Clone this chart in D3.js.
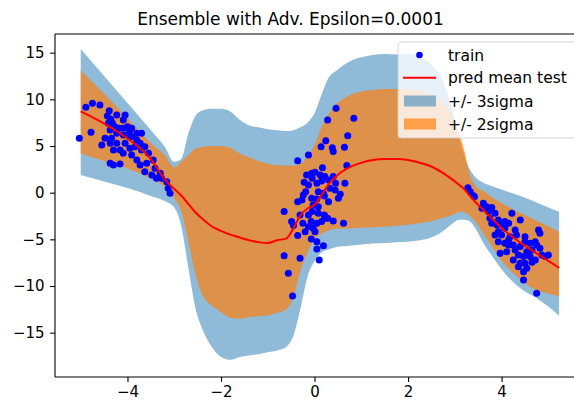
<!DOCTYPE html>
<html>
<head>
<meta charset="utf-8">
<script src="https://cdn.jsdelivr.net/npm/d3@7"></script>
<style>
    body { margin: 0; background: #fff; }
    svg text { font-family: "DejaVu Sans", sans-serif; fill: #000; }
</style>
</head>
<body>
<div id="chart"></div>
<script>
(function () {
    "use strict";

    const title = "Ensemble with Adv. Epsilon=0.0001";
    const legendLabels = ["train", "pred mean test", "+/- 3sigma", "+/- 2sigma"];
    const xTicks = [-4, -2, 0, 2, 4];
    const yTicks = [-15, -10, -5, 0, 5, 10, 15];

    // test grid + ensemble prediction
    const testX = [-5.0, -4.5, -4.0, -3.5, -3.2, -3.0, -2.85, -2.7, -2.55, -2.4, -2.2, -2.0, -1.8, -1.6,
        -1.4, -1.2, -1.0, -0.8, -0.6, -0.45, -0.3, -0.15, 0.0, 0.15, 0.3, 0.45, 0.6, 0.8, 1.0, 1.25,
        1.5, 1.75, 2.0, 2.25, 2.5, 2.75, 2.95, 3.1, 3.2, 3.3, 3.45, 3.6, 3.8, 4.0, 4.25, 4.5, 4.75,
        5.0, 5.23];
    const predMean = [8.7, 7.4, 5.8, 3.6, 1.4, 0.4, -0.3, -1.2, -2.1, -2.8, -3.6, -4.1, -4.5, -4.8,
        -5.1, -5.3, -5.4, -5.1, -4.9, -3.8, -2.4, -1.7, -1.3, -0.25, 0.9, 1.7, 2.3, 2.85, 3.2, 3.5,
        3.6, 3.6, 3.5, 3.2, 2.8, 2.1, 1.4, 0.8, 0.4, -0.2, -1.05, -1.8, -2.8, -3.8, -4.8, -5.7, -6.5,
        -7.3, -8.05];
    const upper3 = [15.4, 12.5, 9.6, 6.7, 4.9, 3.3, 3.6, 6.3, 8.2, 8.8, 9.0, 9.0, 8.7, 7.8,
        7.2, 7.0, 6.8, 6.7, 6.6, 6.7, 7.0, 7.5, 8.5, 10.5, 12.3, 13.0, 13.6, 14.2, 14.5, 14.75,
        14.85, 14.8, 14.85, 14.6, 13.7, 11.9, 8.8, 5.6, 4.0, 2.7, 1.6, 1.1, 0.7, 0.35, -0.1, -0.55, -1.05,
        -1.6, -2.05];
    const lower3 = [1.9, 1.2, 0.5, -0.35, -0.9, -1.6, -3.6, -8.0, -12.3, -14.6, -16.5, -17.6, -17.9, -17.6,
        -17.45, -17.3, -17.1, -16.9, -16.5, -15.3, -12.4, -9.0, -7.35, -6.4, -6.1, -5.85, -5.75, -5.65, -5.55, -5.45,
        -5.4, -5.3, -5.25, -5.1, -4.8, -4.1, -3.3, -2.9, -2.9, -3.0, -3.9, -5.3, -6.8, -8.2, -9.6, -10.6, -11.3,
        -12.2, -13.2];
    const upper2 = [13.1, 10.6, 8.0, 5.3, 4.0, 2.7, 3.3, 4.0, 4.7, 4.9, 5.0, 5.0, 4.8, 4.2,
        3.8, 3.4, 3.1, 2.95, 2.9, 2.9, 3.1, 3.9, 5.1, 7.0, 8.4, 9.4, 10.0, 10.55, 10.85, 11.0,
        11.1, 11.1, 11.05, 10.9, 10.4, 9.6, 8.2, 6.2, 4.6, 2.3, 0.7, 0.2, -0.5, -1.1, -1.8, -2.4, -3.0,
        -3.6, -4.2];
    const lower2 = [4.2, 3.4, 2.6, 1.5, 0.6, -0.6, -2.0, -5.2, -8.7, -10.9, -12.1, -12.8, -13.4, -13.5,
        -13.35, -13.25, -13.15, -12.9, -12.5, -11.2, -8.4, -6.4, -5.0, -4.4, -4.05, -3.9, -3.85, -3.8, -3.75, -3.7,
        -3.65, -3.55, -3.45, -3.25, -3.05, -2.7, -2.4, -2.05, -2.1, -2.4, -3.2, -4.3, -5.8, -7.3, -8.6, -9.7, -10.45,
        -10.8, -11.1];

    // training points
    const trainX = [
        -5.03, -4.89, -4.75, -4.59, -4.78, -4.39, -4.43, -4.36, -4.41, -4.32, -4.23, -4.05, -4.09, -4.27,
        -4.17, -4.09, -4.00, -3.96, -3.91, -4.23, -4.09, -4.34, -4.48, -4.55, -4.37, -4.23, -4.05, -3.88,
        -3.80, -3.73, -4.30, -4.16, -4.09, -3.95, -3.84, -3.70, -3.63, -3.55, -3.91, -3.80, -3.73, -3.59,
        -4.37, -4.30, -4.16, -3.45, -3.41, -3.30, -3.63, -3.48, -3.38, -3.27, -3.16, -3.13, -3.09, -3.95,
        -4.37, -3.80, -3.70,
        0.46, 0.28, 0.84, 0.71, 0.24, 0.14, 0.38, 0.40, 0.64, -0.13, -0.36, 0.69, 0.17, -0.06,
        0.01, 0.12, 0.22, -0.05, -0.22, -0.13, 0.05, 0.15, 0.30, 0.40, 0.45, 0.65, 0.33, 0.44,
        0.55, 0.19, 0.08, -0.19, -0.06, 0.05, 0.21, -0.27, -0.36, -0.03, 0.08, -0.65, -0.31, -0.13,
        -0.05, 0.08, 0.21, 0.28, 0.40, 0.62, -0.49, -0.45, -0.25, -0.07, 0.05, 0.15, -0.13, -0.03,
        -0.20, 0.01, -0.36, -0.07, 0.05, 0.19, 0.05, -0.65, -0.31, 0.10, -0.56, -0.47, 0.22, 0.30,
        -0.17, -0.24, 0.51,
        3.28, 3.42, 3.61, 3.68, 3.79, 3.58, 3.72, 3.86, 3.75, 3.93, 4.07, 4.22, 4.40, 3.79,
        3.90, 4.00, 4.15, 4.29, 4.07, 3.93, 3.86, 4.00, 4.18, 4.32, 4.50, 4.79, 4.82, 4.72,
        4.61, 4.50, 4.07, 4.15, 4.25, 4.40, 4.75, 4.82, 4.65, 4.54, 5.00, 4.93, 3.97, 4.11,
        4.29, 4.36, 4.47, 4.61, 4.72, 4.25, 4.40, 4.50, 4.65, 4.36, 4.54, 4.47, 4.47, 4.75,
        4.15, 3.93, 4.86, 3.33, 3.40
    ];
    const trainY = [
        5.83, 9.15, 9.58, 9.40, 6.47, 8.79, 8.22, 7.86, 7.43, 7.43, 8.33, 8.33, 7.79, 7.07,
        6.90, 6.90, 7.07, 6.54, 6.90, 6.36, 6.18, 5.83, 5.83, 5.11, 5.29, 5.29, 5.29, 6.00,
        5.65, 5.29, 4.58, 4.58, 4.22, 4.75, 4.93, 4.58, 4.93, 4.22, 4.04, 3.50, 2.97, 3.15,
        3.15, 2.97, 3.07, 3.50, 2.61, 2.08, 2.25, 1.90, 1.54, 1.54, 1.18, 0.47, -0.07, 6.00,
        6.72, 6.36, 6.36,
        9.04, 7.79, 7.97, 6.11, 5.57, 4.93, 4.82, 4.40, 4.86, 4.04, 3.43, 2.90, 2.68, 2.08,
        2.18, 1.90, 1.72, 1.54, 1.11, 0.83, 1.00, 1.25, 1.36, 1.72, 1.00, 1.00, 0.47, 0.29,
        -0.17, -0.07, 0.11, 0.11, -0.60, -0.68, -0.35, -0.78, -0.96, -1.32, -1.50, -2.03, -2.39, -2.39,
        -2.03, -2.21, -2.39, -2.75, -3.03, -3.28, -3.10, -3.53, -3.28, -3.10, -3.28, -3.10, -3.64, -3.82,
        -4.18, -4.18, -4.60, -4.96, -5.25, -5.68, -6.03, -6.75, -7.03, -7.21, -8.64, -11.07, -2.75, -0.96,
        1.90, -0.25, -0.60,
        0.54, -0.43, -1.14, -1.50, -1.60, -1.67, -2.03, -2.21, -2.75, -2.93, -3.10, -2.21, -2.93, -3.28,
        -3.46, -3.46, -3.28, -4.00, -3.82, -4.18, -4.53, -4.53, -4.71, -4.53, -4.71, -4.00, -4.35, -5.25,
        -5.42, -5.25, -5.42, -5.60, -5.60, -5.78, -5.60, -5.96, -6.14, -6.32, -6.67, -6.85, -6.50, -6.32,
        -6.14, -6.67, -6.85, -6.85, -7.21, -7.21, -7.57, -7.57, -7.46, -7.93, -8.10, -8.46, -9.35, -10.78,
        -5.07, -5.25, -6.67, 0.10, -0.32
    ];

    const width = 574;
    const height = 404;
    const plot = { left: 55, right: 575, top: 34, bottom: 377 };

    const blue = "#1f77b4";
    const orange = "#ff7f0e";

    const svg = d3.select("#chart").append("svg")
        .attr("width", width)
        .attr("height", height);

    const xScale = d3.scaleLinear()
        .domain([-5.55, 5.57])
        .range([plot.left, plot.right]);

    const yScale = d3.scaleLinear()
        .domain([-19.75, 17.0])
        .range([plot.bottom, plot.top]);

    svg.append("clipPath")
        .attr("id", "plot-clip")
        .append("rect")
        .attr("x", plot.left)
        .attr("y", plot.top)
        .attr("width", plot.right - plot.left)
        .attr("height", plot.bottom - plot.top);

    const band = testX.map((x, i) => ({
        x: x,
        mean: predMean[i],
        hi3: upper3[i],
        lo3: lower3[i],
        hi2: upper2[i],
        lo2: lower2[i]
    }));

    const area3 = d3.area()
        .curve(d3.curveMonotoneX)
        .x(d => xScale(d.x))
        .y0(d => yScale(d.lo3))
        .y1(d => yScale(d.hi3));

    const area2 = d3.area()
        .curve(d3.curveMonotoneX)
        .x(d => xScale(d.x))
        .y0(d => yScale(d.lo2))
        .y1(d => yScale(d.hi2));

    const meanLine = d3.line()
        .curve(d3.curveMonotoneX)
        .x(d => xScale(d.x))
        .y(d => yScale(d.mean));

    const plotArea = svg.append("g")
        .attr("clip-path", "url(#plot-clip)");

    plotArea.append("path")
        .datum(band)
        .attr("d", area3)
        .attr("fill", blue)
        .attr("fill-opacity", 0.5);

    plotArea.append("path")
        .datum(band)
        .attr("d", area2)
        .attr("fill", orange)
        .attr("fill-opacity", 0.7);

    plotArea.append("g")
        .selectAll("circle")
        .data(trainX.map((x, i) => [x, trainY[i]]))
        .join("circle")
        .attr("cx", d => xScale(d[0]))
        .attr("cy", d => yScale(d[1]))
        .attr("r", 3.5)
        .attr("fill", "#0000ff");

    plotArea.append("path")
        .datum(band)
        .attr("d", meanLine)
        .attr("fill", "none")
        .attr("stroke", "#ff0000")
        .attr("stroke-width", 2);

    // axes
    const xAxis = svg.append("g")
        .attr("transform", `translate(0,${plot.bottom})`)
        .call(d3.axisBottom(xScale).tickValues(xTicks).tickSize(4.9).tickPadding(4.5));

    const yAxis = svg.append("g")
        .attr("transform", `translate(${plot.left},0)`)
        .call(d3.axisLeft(yScale).tickValues(yTicks).tickSize(4.9).tickPadding(5.5));

    [xAxis, yAxis].forEach((g) => {
        g.select(".domain").remove();
        g.selectAll(".tick line").attr("stroke", "#000").attr("stroke-width", 1.1);
        g.selectAll(".tick text")
            .attr("fill", "#000")
            .style("font-size", "15px")
            .style("font-family", "'DejaVu Sans', sans-serif");
    });

    // spines
    const spines = svg.append("g")
        .attr("stroke", "#000")
        .attr("stroke-width", 1.1)
        .attr("fill", "none");

    spines.append("line")
        .attr("x1", plot.left).attr("x2", plot.left)
        .attr("y1", plot.top).attr("y2", plot.bottom);
    spines.append("line")
        .attr("x1", plot.left).attr("x2", plot.right)
        .attr("y1", plot.bottom).attr("y2", plot.bottom);
    spines.append("line")
        .attr("x1", plot.left).attr("x2", plot.right)
        .attr("y1", plot.top).attr("y2", plot.top);

    // title sits on the figure centre, not the axes centre
    svg.append("text")
        .attr("x", 290.5)
        .attr("y", 25)
        .attr("text-anchor", "middle")
        .style("font-size", "17px")
        .text(title);

    // legend
    const legend = svg.append("g")
        .attr("transform", "translate(398,42)");

    legend.append("rect")
        .attr("x", 0)
        .attr("y", 0)
        .attr("width", 190)
        .attr("height", 96)
        .attr("rx", 3)
        .attr("fill", "#fff")
        .attr("fill-opacity", 0.8)
        .attr("stroke", "#cccccc")
        .attr("stroke-opacity", 0.8);

    const rowY = [13, 35.7, 59, 82];

    legend.append("circle")
        .attr("cx", 21.5)
        .attr("cy", rowY[0])
        .attr("r", 3.3)
        .attr("fill", "#0000ff");

    legend.append("line")
        .attr("x1", 5).attr("x2", 38)
        .attr("y1", rowY[1]).attr("y2", rowY[1])
        .attr("stroke", "#ff0000")
        .attr("stroke-width", 2);

    legend.append("rect")
        .attr("x", 6).attr("y", rowY[2] - 5.5)
        .attr("width", 32).attr("height", 11)
        .attr("fill", blue)
        .attr("fill-opacity", 0.5);

    legend.append("rect")
        .attr("x", 6).attr("y", rowY[3] - 5.5)
        .attr("width", 32).attr("height", 11)
        .attr("fill", orange)
        .attr("fill-opacity", 0.7);

    legend.selectAll("text.label")
        .data(legendLabels)
        .join("text")
        .attr("class", "label")
        .attr("x", 50)
        .attr("y", (d, i) => rowY[i])
        .attr("dy", "0.36em")
        .style("font-size", "15.5px")
        .text(d => d);
}());
</script>
</body>
</html>
